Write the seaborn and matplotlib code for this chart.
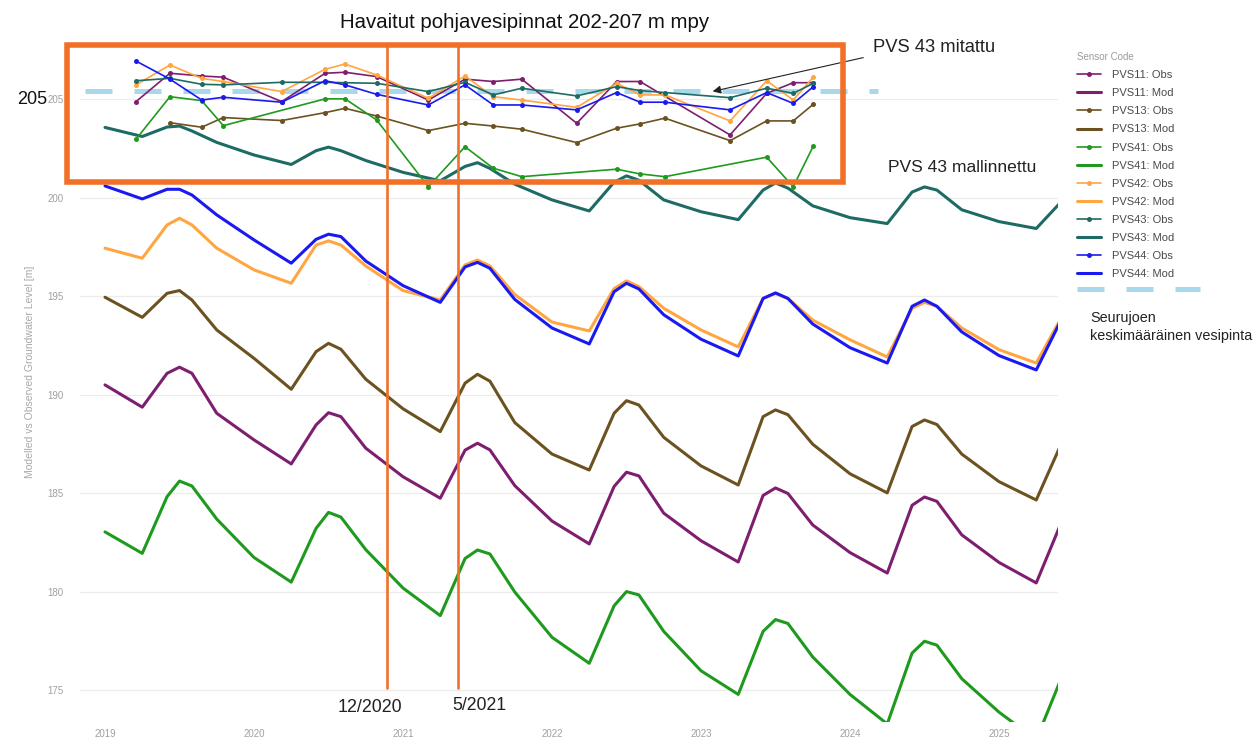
import matplotlib
matplotlib.use("Agg")
import matplotlib.pyplot as plt
import seaborn as sns
import pandas as pd
import numpy as np
from matplotlib.lines import Line2D
from matplotlib.patches import Rectangle

W, H = 1255, 754
sns.set_theme(style="white")
plt.rcParams['font.family'] = ['Liberation Sans', 'DejaVu Sans']

# ---------------- data ----------------
# modelled series: months since Jan 2019
mod_months = [0, 3, 5, 6, 7, 9, 12, 15, 17, 18, 19, 21, 24, 27, 29, 30, 31, 33, 36,
              39, 41, 42, 43, 45, 48, 51, 53, 54, 55, 57, 60, 63, 65, 66, 67, 69, 72, 75, 77]
mod_pvs11 = [190.51, 189.38, 191.1, 191.41, 191.1, 189.07, 187.72, 186.5, 188.48, 189.1, 188.9, 187.3, 185.85,
             184.76, 187.2, 187.55, 187.21, 185.4, 183.6, 182.44, 185.35, 186.08, 185.89, 184.0, 182.6,
             181.52, 184.9, 185.28, 185.0, 183.4, 182.0, 180.96, 184.4, 184.82, 184.6, 182.9, 181.5, 180.46, 183.5]
mod_pvs13 = [194.96, 193.94, 195.16, 195.3, 194.82, 193.3, 191.86, 190.29, 192.2, 192.62, 192.32, 190.8, 189.3,
             188.14, 190.6, 191.05, 190.7, 188.6, 187.0, 186.19, 189.07, 189.71, 189.49, 187.85, 186.4,
             185.43, 188.9, 189.24, 189.0, 187.5, 186.0, 185.03, 188.4, 188.73, 188.5, 187.0, 185.6, 184.67, 187.5]
mod_pvs41 = [183.05, 181.96, 184.84, 185.63, 185.38, 183.7, 181.75, 180.5, 183.23, 184.04, 183.8, 182.15, 180.2,
             178.8, 181.7, 182.13, 181.93, 180.0, 177.7, 176.38, 179.3, 180.02, 179.85, 178.0, 176.0,
             174.8, 178.0, 178.6, 178.4, 176.7, 174.8, 173.3, 176.9, 177.5, 177.3, 175.6, 173.9, 172.5, 175.6]
mod_pvs42 = [197.45, 196.94, 198.63, 198.97, 198.63, 197.45, 196.35, 195.67, 197.61, 197.82, 197.61, 196.55, 195.3,
             194.82, 196.6, 196.85, 196.55, 195.1, 193.7, 193.25, 195.4, 195.79, 195.5, 194.4, 193.3,
             192.44, 194.9, 195.15, 194.9, 193.8, 192.8, 191.93, 194.4, 194.7, 194.5, 193.4, 192.3, 191.62, 193.9]
mod_pvs43 = [203.58, 203.12, 203.6, 203.65, 203.4, 202.82, 202.18, 201.7, 202.4, 202.58, 202.4, 201.9, 201.3,
             200.87, 201.6, 201.79, 201.5, 200.7, 199.9, 199.34, 200.8, 201.12, 200.9, 199.9, 199.3,
             198.9, 200.4, 200.76, 200.5, 199.6, 199.0, 198.7, 200.3, 200.56, 200.4, 199.4, 198.8, 198.45, 199.8]
mod_pvs44 = [200.61, 199.95, 200.44, 200.44, 200.15, 199.14, 197.87, 196.69, 197.9, 198.16, 198.04, 196.8, 195.55,
             194.7, 196.5, 196.73, 196.43, 194.85, 193.4, 192.59, 195.24, 195.67, 195.38, 194.07, 192.83,
             191.98, 194.9, 195.18, 194.9, 193.6, 192.4, 191.62, 194.5, 194.82, 194.5, 193.2, 192.0, 191.27, 193.8]

# observed series: campaign dates (decimal years)
obs_dates = [2019.208, 2019.436, 2019.649, 2019.794, 2020.186, 2020.477, 2020.611, 2020.823,
             2021.170, 2021.416, 2021.606, 2021.797, 2022.166, 2022.434, 2022.591, 2022.758,
             2023.195, 2023.441, 2023.619, 2023.754]
obs_pvs11 = [204.89, 206.33, 206.19, 206.13, 204.89, 206.33, 206.38, 206.16, 204.97, 206.03, 205.91, 206.03,
             203.79, 205.91, 205.91, None, 203.2, 205.31, 205.85, 205.85]
obs_pvs13 = [None, 203.82, 203.59, 204.08, 203.93, 204.33, 204.55, 204.16, 203.42, 203.79, 203.65, 203.49,
             202.81, 203.54, 203.76, 204.05, 202.91, 203.91, 203.91, 204.76]
obs_pvs41 = [202.98, 205.14, 204.94, 203.67, None, 205.03, 205.03, 203.96, 200.57, 202.6, 201.51, 201.08,
             None, 201.46, 201.22, 201.08, None, 202.07, 200.57, 202.64]
obs_pvs42 = [205.74, 206.75, 206.07, 205.91, 205.4, 206.53, 206.8, 206.24, 205.06, 206.19, 205.14, 204.97,
             204.6, 205.82, 205.23, 205.23, 203.91, 205.95, 204.97, 206.13]
obs_pvs43 = [205.95, 206.07, 205.77, 205.74, 205.87, 205.87, 205.85, 205.82, 205.4, 205.87, 205.23, 205.57,
             205.18, 205.65, 205.45, 205.35, 205.09, 205.57, 205.31, 205.82]
obs_pvs44 = [206.95, 206.03, 204.97, 205.11, 204.86, 205.95, 205.74, 205.26, 204.72, 205.74, 204.72, 204.72,
             204.47, 205.35, 204.86, 204.86, 204.47, 205.35, 204.8, 205.65]

sensors = ["PVS11", "PVS13", "PVS41", "PVS42", "PVS43", "PVS44"]
colors = {"PVS11": "#7d1f6e", "PVS13": "#6b5220", "PVS41": "#1f9a1f",
          "PVS42": "#ffa640", "PVS43": "#1d6b64", "PVS44": "#1a1af0"}
mod_vals = {"PVS11": mod_pvs11, "PVS13": mod_pvs13, "PVS41": mod_pvs41,
            "PVS42": mod_pvs42, "PVS43": mod_pvs43, "PVS44": mod_pvs44}
obs_vals = {"PVS11": obs_pvs11, "PVS13": obs_pvs13, "PVS41": obs_pvs41,
            "PVS42": obs_pvs42, "PVS43": obs_pvs43, "PVS44": obs_pvs44}

river_level = 205.42
river_span = [2018.866, 2024.19]
event_dates = [2020.89, 2021.37]
event_labels = ["12/2020", "5/2021"]
year_ticks = [2019, 2020, 2021, 2022, 2023, 2024, 2025]
y_ticks = [175, 180, 185, 190, 195, 200, 205]

# ---------------- build long frames ----------------
rows = []
for s in sensors:
    for m, v in zip(mod_months, mod_vals[s]):
        rows.append({"t": 2019 + m / 12.0, "level": v, "series": f"{s}: Mod"})
mod_df = pd.DataFrame(rows)
rows = []
for s in sensors:
    for d, v in zip(obs_dates, obs_vals[s]):
        if v is not None:
            rows.append({"t": d, "level": v, "series": f"{s}: Obs"})
obs_df = pd.DataFrame(rows)

# ---------------- figure ----------------
fig = plt.figure(figsize=(W / 100, H / 100), dpi=100)
fig.patch.set_facecolor("white")
ax = fig.add_axes([80 / W, 1 - 722 / H, (1058 - 80) / W, (722 - 50) / H])

def fx(px):
    return px / W

def fy(py):
    return 1 - py / H

river_color = "#a8d8ea"
river_dashes = (5.4, 4.4)
# river reference line
ax.plot(river_span, [river_level, river_level], color=river_color, lw=3.6,
        dashes=river_dashes, dash_capstyle="butt", zorder=1)

handles, labels = [], []
for s in sensors:
    sub_o = obs_df[obs_df.series == f"{s}: Obs"]
    sns.lineplot(data=sub_o, x="t", y="level", ax=ax, color=colors[s], lw=1.2,
                 marker="o", markersize=3.6, markeredgewidth=0, legend=False, zorder=3)
    sub_m = mod_df[mod_df.series == f"{s}: Mod"]
    sns.lineplot(data=sub_m, x="t", y="level", ax=ax, color=colors[s], lw=2.2,
                 legend=False, zorder=2)
    handles.append(Line2D([], [], color=colors[s], lw=1.2, marker="o", markersize=3.6, markeredgewidth=0))
    labels.append(f"{s}: Obs")
    handles.append(Line2D([], [], color=colors[s], lw=2.2))
    labels.append(f"{s}: Mod")

x_left = 2019 + (80 - 105) / 149.0
x_right = 2019 + (1058 - 105) / 149.0
ax.set_xlim(x_left, x_right)
ax.set_ylim(173.4, 207.51)
ax.set_xticks(year_ticks)
ax.set_xticklabels([str(y) for y in year_ticks])
ax.set_yticks(y_ticks)
ax.set_yticklabels([str(y) for y in y_ticks])
ax.tick_params(axis="both", length=0, labelsize=7, labelcolor="#a0a0a0")
ax.tick_params(axis="y", pad=12)
ax.tick_params(axis="x", pad=5)
ax.set_xlabel("")
ax.set_ylabel("")
ax.grid(axis="y", color="#ececec", lw=0.9)
ax.grid(axis="x", visible=False)
for sp in ax.spines.values():
    sp.set_visible(False)

fig.text(fx(30), fy(372), "Modelled vs Observed Groundwater Level [m]", rotation=90,
         ha="center", va="center", fontsize=7.5, color="#a8a8a8")

# legend
leg = fig.legend(handles, labels, loc="upper left", bbox_to_anchor=(fx(1077), fy(52)),
                 frameon=False, fontsize=8, title="Sensor Code", title_fontsize=7,
                 handlelength=2.15, handletextpad=1.0, labelspacing=0.73,
                 borderpad=0, borderaxespad=0, labelcolor="#4a4a4a")
leg._legend_box.align = "left"
leg.get_title().set_color("#9a9a9a")

# overlays (annotations)
orange = "#f07028"
fig.patches.append(Rectangle((fx(67), fy(182)), fx(843) - fx(67), fy(45) - fy(182),
                             transform=fig.transFigure, fill=False, edgecolor=orange,
                             lw=4.0, zorder=10))
for d in event_dates:
    ax.axvline(d, ymin=(722 - 688) / 672, ymax=(722 - 45) / 672, color=orange, lw=1.9,
               clip_on=False, zorder=9)
fig.text(fx(370), fy(707), event_labels[0], ha="center", va="center", fontsize=12.9, color="#222222")
fig.text(fx(479), fy(705), event_labels[1], ha="center", va="center", fontsize=12.7, color="#222222")

fig.text(fx(525), fy(22), "Havaitut pohjavesipinnat 202-207 m mpy", ha="center", va="center",
         fontsize=14.7, color="#111111")
fig.text(fx(32), fy(100), "205", ha="center", va="center", fontsize=13, color="#111111")
fig.text(fx(873), fy(47), "PVS 43 mitattu", ha="left", va="center", fontsize=13.2, color="#222222")
fig.text(fx(888), fy(168), "PVS 43 mallinnettu", ha="left", va="center", fontsize=12.6, color="#222222")
ax.annotate("", xy=(fx(710), fy(92)), xytext=(fx(866), fy(57)),
            xycoords="figure fraction", textcoords="figure fraction",
            arrowprops=dict(arrowstyle="-|>", color="#222222", lw=0.8, mutation_scale=12))

# river legend sample + text
fig.lines.append(Line2D([fx(1077), fx(1200)], [fy(289), fy(289)], transform=fig.transFigure,
                        color=river_color, lw=3.6, dashes=river_dashes, dash_capstyle="butt"))
fig.text(fx(1090), fy(318), "Seurujoen", ha="left", va="center", fontsize=10.4, color="#222222")
fig.text(fx(1090), fy(336), "keskimääräinen vesipinta", ha="left", va="center", fontsize=10.4,
         color="#222222")

fig.savefig("out.png", dpi=100)
